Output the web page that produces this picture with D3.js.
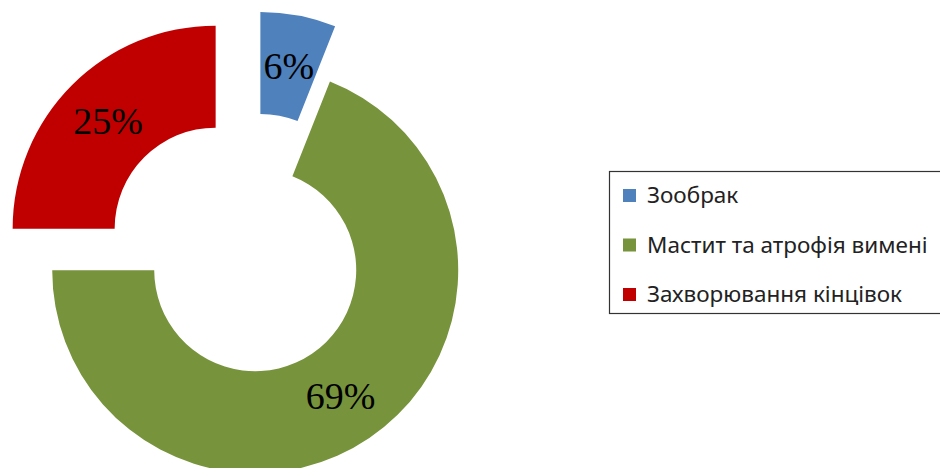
<!DOCTYPE html>
<html>
<head>
<meta charset="utf-8">
<script src="https://cdn.jsdelivr.net/npm/d3@7/dist/d3.min.js"></script>
<style>
  html, body { margin: 0; padding: 0; background: #fff; }
  svg { display: block; }
</style>
</head>
<body>
<svg id="chart" width="940" height="468"></svg>
<script>
// Disease categories and their shares (%)
const categories = ["Зообрак", "Мастит та атрофія вимені", "Захворювання кінцівок"];
const shares = [6, 69, 25];
const labels = ["6%", "69%", "25%"];
const colors = ["#4F81BD", "#77933C", "#C00000"];
// Radial offset of each slice from the donut centre (exploded view)
const explode = [50, 7.5, 50];

const svg = d3.select("#chart");
const cx = 251, cy = 264;
const outerR = 203, innerR = 101;

const pie = d3.pie().value(d => d).sort(null);
const arcs = pie(shares);
const arc = d3.arc().innerRadius(innerR).outerRadius(outerR);

const g = svg.append("g").attr("transform", `translate(${cx},${cy})`);

const slice = g.selectAll("g.slice")
  .data(arcs)
  .join("g")
  .attr("class", "slice")
  .attr("transform", (d, i) => {
    const a = (d.startAngle + d.endAngle) / 2;
    return `translate(${Math.sin(a) * explode[i]},${-Math.cos(a) * explode[i]})`;
  });

slice.append("path")
  .attr("d", arc)
  .attr("fill", (d, i) => colors[i]);

slice.append("text")
  .attr("transform", d => `translate(${arc.centroid(d)})`)
  .attr("text-anchor", "middle")
  .attr("dy", "0.35em")
  .attr("font-family", "'Liberation Serif', 'Times New Roman', serif")
  .attr("font-size", 38)
  .attr("fill", "#000")
  .text((d, i) => labels[i]);

// Legend
const legend = svg.append("g");
legend.append("rect")
  .attr("x", 609.5).attr("y", 171.5)
  .attr("width", 340).attr("height", 142)
  .attr("fill", "#fff")
  .attr("stroke", "#333")
  .attr("stroke-width", 1.2);

const rowY = d3.scalePoint().domain(categories).range([195.5, 294.5]);

const item = legend.selectAll("g.item")
  .data(categories)
  .join("g")
  .attr("class", "item")
  .attr("transform", d => `translate(623,${rowY(d)})`);

item.append("rect")
  .attr("x", 0).attr("y", -6.5)
  .attr("width", 13).attr("height", 13)
  .attr("fill", (d, i) => colors[i]);

item.append("text")
  .attr("x", 24)
  .attr("dy", "0.35em")
  .attr("font-family", "'Noto Sans', 'Open Sans', sans-serif")
  .attr("font-size", 22.5)
  .attr("fill", "#222")
  .text(d => d);
</script>
</body>
</html>
